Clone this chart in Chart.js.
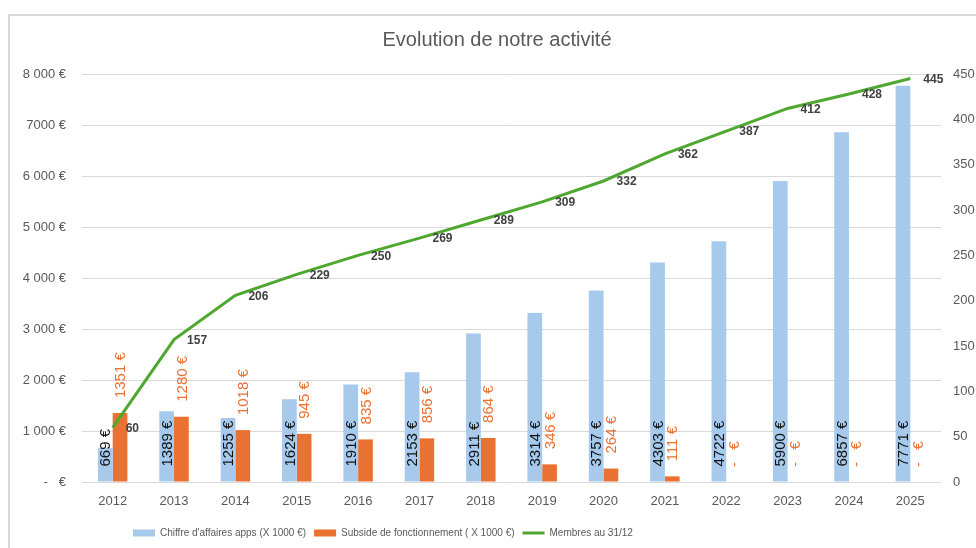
<!DOCTYPE html>
<html lang="fr">
<head>
<meta charset="utf-8">
<title>Evolution de notre activité</title>
<script src="https://cdn.jsdelivr.net/npm/chart.js@4.4.1/dist/chart.umd.min.js"></script>
<style>
  html, body { margin: 0; padding: 0; background: #fff; }
  #wrap { width: 976px; height: 548px; position: relative; }
</style>
</head>
<body>
<div id="wrap"><canvas id="activityChart"></canvas></div>
<script>
// ==========================================================
// Data
// ==========================================================

const years = ["2012", "2013", "2014", "2015", "2016", "2017", "2018",
  "2019", "2020", "2021", "2022", "2023", "2024", "2025"];

const chiffreAffaires = [669, 1389, 1255, 1624, 1910, 2153, 2911,
  3314, 3757, 4303, 4722, 5900, 6857, 7771];

const subside = [1351, 1280, 1018, 945, 835, 856, 864,
  346, 264, 111, 0, 0, 0, 0];

const membres = [60, 157, 206, 229, 250, 269, 289,
  309, 332, 362, 387, 412, 428, 445];

const euroTickLabels = ["-   €", "1 000 €", "2 000 €", "3 000 €", "4 000 €",
  "5 000 €", "6 000 €", "7000 €", "8 000 €"];

const memberTickLabels = ["0", "50", "100", "150", "200", "250", "300", "350", "400", "450"];

const seriesNames = [
  "Chiffre d'affaires apps (X 1000 €)",
  "Subside de fonctionnement ( X 1000 €)",
  "Membres au 31/12"
];

// ==========================================================
// Helpers
// ==========================================================

const FONT = "'Liberation Sans', Arial, sans-serif";
const GREY = "#595959";
const BLUE = "#a6c9ec";
const ORANGE = "#e97132";
const GREEN = "#4ea72e";

const euroLabel = v => (v === 0 ? "-   €" : v + " €");

// frame + data labels, drawn on top of the library's elements
const chartDecor = {
  id: "chartDecor",
  afterLayout(chart) {
    // legend sits left of centre, title centred on the framed box
    chart.legend.left = 125;
    chart.titleBlock.left = 18;
  },
  beforeDraw(chart) {
    const ctx = chart.ctx;
    ctx.save();
    ctx.strokeStyle = "#d9d9d9";
    ctx.lineWidth = 2;
    ctx.beginPath();
    ctx.moveTo(9, chart.height);
    ctx.lineTo(9, 15);
    ctx.lineTo(chart.width, 15);
    ctx.stroke();
    ctx.restore();
  },
  afterDatasetsDraw(chart) {
    const ctx = chart.ctx;
    ctx.save();
    ctx.textBaseline = "middle";
    ctx.textAlign = "left";

    // blue bars: rotated, from the base upwards
    ctx.font = "15px " + FONT;
    ctx.fillStyle = "#111";
    chart.getDatasetMeta(0).data.forEach((bar, i) => {
      ctx.save();
      ctx.translate(bar.x, bar.base - 15);
      ctx.rotate(-Math.PI / 2);
      ctx.fillText(euroLabel(chiffreAffaires[i]), 0, 1);
      ctx.restore();
    });

    // orange bars: rotated, above the bar
    ctx.fillStyle = ORANGE;
    chart.getDatasetMeta(1).data.forEach((bar, i) => {
      ctx.save();
      ctx.translate(bar.x, bar.y - 15);
      ctx.rotate(-Math.PI / 2);
      ctx.fillText(euroLabel(subside[i]), 0, 1);
      ctx.restore();
    });

    // members line: right of each point
    ctx.font = "bold 12px " + FONT;
    ctx.fillStyle = "#404040";
    chart.getDatasetMeta(2).data.forEach((pt, i) => {
      ctx.fillText(String(membres[i]), pt.x + 13, pt.y + 1);
    });

    ctx.restore();
  }
};

// ==========================================================
// Chart
// ==========================================================

const ctx = document.getElementById("activityChart");

new Chart(ctx, {
  type: "bar",
  data: {
    labels: years,
    datasets: [
      {
        label: seriesNames[0],
        data: chiffreAffaires,
        backgroundColor: BLUE,
        borderWidth: 0,
        yAxisID: "y",
        pointStyle: "rect",
        order: 1,
        categoryPercentage: 0.48,
        barPercentage: 1
      },
      {
        label: seriesNames[1],
        data: subside,
        backgroundColor: ORANGE,
        borderWidth: 0,
        yAxisID: "y",
        pointStyle: "rect",
        order: 1,
        categoryPercentage: 0.48,
        barPercentage: 1
      },
      {
        type: "line",
        label: seriesNames[2],
        data: membres,
        borderColor: GREEN,
        backgroundColor: GREEN,
        borderWidth: 3,
        pointRadius: 0,
        pointStyle: "line",
        tension: 0,
        yAxisID: "y1",
        order: 0
      }
    ]
  },
  options: {
    responsive: true,
    maintainAspectRatio: false,
    animation: false,
    layout: { padding: 0 },
    plugins: {
      tooltip: { enabled: false },
      title: {
        display: true,
        text: "Evolution de notre activité",
        color: GREY,
        font: { family: FONT, size: 20, weight: "normal" },
        padding: { top: 28, bottom: 22 }
      },
      legend: {
        display: true,
        position: "bottom",
        align: "start",
        labels: {
          usePointStyle: true,
          pointStyleWidth: 22,
          boxHeight: 7,
          padding: 8,
          color: GREY,
          font: { family: FONT, size: 10 },
          sort: (a, b) => a.datasetIndex - b.datasetIndex
        }
      }
    },
    scales: {
      x: {
        grid: { display: false, drawTicks: false },
        border: { display: false },
        ticks: { color: GREY, font: { family: FONT, size: 13 }, padding: 12 },
        afterFit(scale) { scale.height = 38; }
      },
      y: {
        position: "left",
        min: 0,
        max: 8000,
        grid: { color: "#d9d9d9", drawTicks: false },
        border: { display: false },
        ticks: {
          stepSize: 1000,
          padding: 16,
          color: GREY,
          font: { family: FONT, size: 13 },
          callback: (v, i) => euroTickLabels[i]
        },
        afterFit(scale) { scale.width = 82; }
      },
      y1: {
        position: "right",
        min: 0,
        max: 450,
        grid: { display: false, drawTicks: false },
        border: { display: false },
        ticks: {
          stepSize: 50,
          padding: 12,
          color: GREY,
          font: { family: FONT, size: 13 },
          callback: (v, i) => memberTickLabels[i]
        },
        afterFit(scale) { scale.width = 35; }
      }
    }
  },
  plugins: [chartDecor]
});
</script>
</body>
</html>
